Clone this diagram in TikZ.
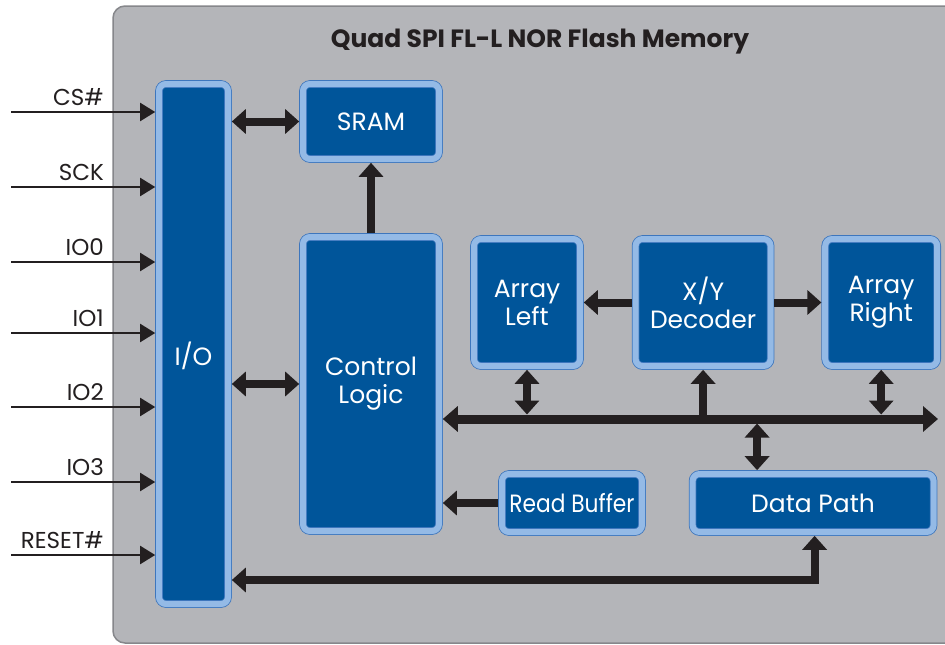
\documentclass[tikz,border=0pt]{standalone}
\usepackage{fontspec}
\setmainfont{Poppins}
\newfontfamily\narrowfont{Poppins}[FakeStretch=0.87]
\usetikzlibrary{arrows.meta,positioning}
\definecolor{panelgray}{HTML}{B4B5B9}
\definecolor{paneledge}{HTML}{86878B}
\definecolor{blockblue}{HTML}{00559A}
\definecolor{blockband}{HTML}{94BAE6}
\definecolor{blockedge}{HTML}{3D76BD}
\definecolor{arrowblack}{HTML}{231F20}

\begin{document}
\begin{tikzpicture}[x=1pt,y=-1pt,>=Triangle,node distance=48pt,
	main node/.style={rectangle,rounded corners=7pt,fill=blockblue,draw=blockedge,line width=0.8pt,
		double=blockband,double distance=6pt,outer sep=3.8pt,inner sep=0pt,
		text=white,align=center,font=\fontsize{25}{28}\selectfont},
	big arrow/.style={draw=arrowblack,line width=8pt,-{Triangle[length=14pt,width=24pt]}},
	big both/.style={draw=arrowblack,line width=8pt,{Triangle[length=14pt,width=24pt]}-{Triangle[length=14pt,width=24pt]}},
	bus both/.style={draw=arrowblack,line width=9pt,{Triangle[length=15pt,width=25pt]}-{Triangle[length=15pt,width=25pt]}},
	sig arrow/.style={draw=arrowblack,line width=2pt,-{Triangle[length=15pt,width=18pt]}},
	sig label/.style={anchor=base east,inner sep=0pt,text=arrowblack,font=\fontsize{23}{27}\selectfont}]
	\useasboundingbox[fill=white] (0,0) rectangle (945,645);
	% chip outline
	\draw[fill=panelgray,draw=paneledge,line width=1.5pt,rounded corners=12pt] (113,6) rectangle (990,643);
	\node[font=\bfseries\fontsize{25}{30}\selectfont,text=arrowblack] (title) at (540,42) {Quad SPI FL-L NOR Flash Memory};
	
	\node[main node,minimum width=69pt,minimum height=520pt] (1) at (193.5,344) {\raisebox{-21pt}[0pt][0pt]{I/O}};
	\node[main node,minimum width=136pt,minimum height=75pt] (2) at (371,121.5) {SRAM};
	\node[main node,minimum width=136pt,minimum height=294pt] (3) at (371,384) {Control\\Logic};
	\node[main node,minimum width=106pt,minimum height=127pt] (4) at (527,302.5) {Array\\Left};
	\node[main node,minimum width=135pt,minimum height=127pt] (5) [right=48pt of 4] {X/Y\\Decoder};
	\node[main node,minimum width=112pt,minimum height=127pt] (6) [right=47pt of 5] {Array\\Right};
	\node[main node,minimum width=140pt,minimum height=58pt] (7) at (572,503) {\narrowfont Read Buffer};
	\node[main node,minimum width=241pt,minimum height=58pt] (8) [right=43pt of 7] {Data Path};
	
	% inputs
	\foreach \sig/\y in {CS\#/112,SCK/187,IO0/262,IO1/333,IO2/407,IO3/482,RESET\#/555}{
		\coordinate (in\y) at (11,\y);
		\node[sig label] (lab\y) at (104,\y-7) {\sig};
		\draw[sig arrow] (in\y) -- (in\y -| 1.west);
	}
	
	% internal paths
	\coordinate (bus) at (938,419);
	\coordinate (ret) at (0,580);
	\coordinate (tap) at ([xshift=-56pt]8.north);
	\draw[big both] (1.east |- 2) -- (2.west);
	\draw[big both] (1.east |- 3) -- (3.west);
	\draw[big arrow] (3.north) -- (2.south);
	\draw[big arrow] (5.west) -- (4.east);
	\draw[big arrow] (5.east) -- (6.west);
	\draw[bus both] (3.east |- bus) -- (bus);
	\draw[big both,shorten >=4.5pt] (4.south) -- (4.south |- bus);
	\draw[big arrow] (5.south |- bus) -- (5.south);
	\draw[big both,shorten >=4.5pt] (6.south) -- (6.south |- bus);
	\draw[big both,shorten >=4.5pt] (tap) -- (tap |- bus);
	\draw[big arrow] (7.west) -- (7.west -| 3.east);
	\draw[big both] (1.east |- ret) -| ([xshift=1.5pt]8.south);
\end{tikzpicture}
\end{document}
